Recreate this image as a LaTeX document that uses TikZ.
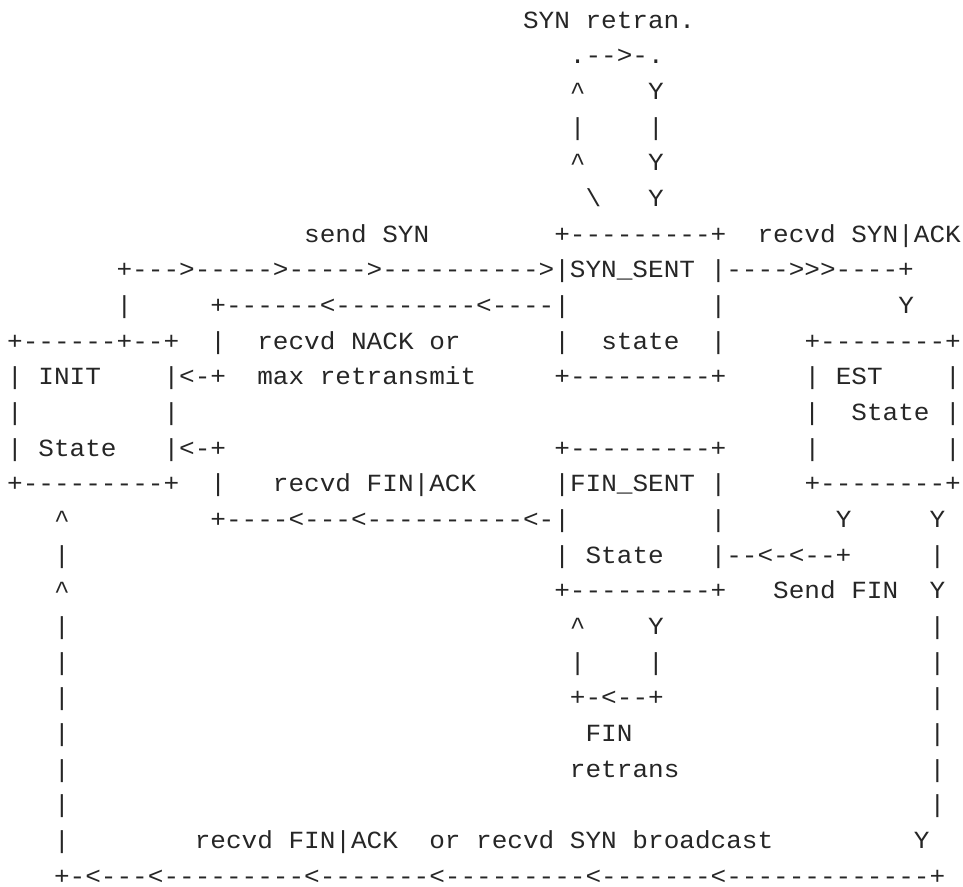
\documentclass[tikz,border=0pt]{standalone}
\usepackage{fontspec}
\usepackage{graphicx}
\setmonofont{Liberation Mono}
\usetikzlibrary{positioning}
\definecolor{ink}{HTML}{262626}
% one character cell is 0.6em wide; stretch a little to the grid
\newcommand\asc[1]{\scalebox{1.056}[1]{#1}}
\newcommand\gap[1]{\hspace*{#1\dimexpr0.6em\relax}}
\newcommand\caret{\textasciicircum}
\newcommand\bslash{\textbackslash}
\tikzset{
  ln/.style = {anchor=base west, inner sep=0pt, outer sep=0pt, text=ink,
               text depth=0pt, font=\ttfamily\fontsize{18.5pt}{20pt}\selectfont},
}

\begin{document}
\begin{tikzpicture}[x=11.72pt, y=-26.74pt]
  \useasboundingbox (-0.96,0.206) rectangle (60.65,25.06);

  % SYN retransmission loop
  \node[ln] (l01) at (32.5, 1) {\asc{SYN retran.}};
  \node[ln] (l02) at (35.5, 2) {\asc{.-->-.}};
  \node[ln] (l03) at (35.5, 3) {\asc{\caret\gap{4}Y}};
  \node[ln] (l04) at (35.5, 4) {\asc{|\gap{4}|}};
  \node[ln] (l05) at (35.5, 5) {\asc{\caret\gap{4}Y}};
  \node[ln] (l06) at (36.5, 6) {\asc{\bslash\gap{3}Y}};

  % SYN_SENT state
  \node[ln] (l07) at (18.5, 7) {\asc{send SYN\gap{8}+---------+\gap{2}recvd SYN|ACK}};
  \node[ln] (l08) at ( 6.5, 8) {\asc{+--->----->----->---------->|SYN\_SENT |---->>>----+}};
  \node[ln] (l09) at ( 6.5, 9) {\asc{|\gap{5}+------<---------<----|\gap{9}|\gap{11}Y}};
  \node[ln] (l10) at (-0.5,10) {\asc{+------+--+\gap{2}|\gap{2}recvd NACK or\gap{6}|\gap{2}state\gap{2}|\gap{5}+--------+}};
  \node[ln] (l11) at (-0.5,11) {\asc{| INIT\gap{4}|<-+\gap{2}max retransmit\gap{5}+---------+\gap{5}| EST\gap{4}|}};

  % INIT, EST and FIN_SENT states
  \node[ln] (l12) at (-0.5,12) {\asc{|\gap{9}|\gap{40}|\gap{2}State |}};
  \node[ln] (l13) at (-0.5,13) {\asc{| State\gap{3}|<-+\gap{21}+---------+\gap{5}|\gap{8}|}};
  \node[ln] (l14) at (-0.5,14) {\asc{+---------+\gap{2}|\gap{3}recvd FIN|ACK\gap{5}|FIN\_SENT |\gap{5}+--------+}};
  \node[ln] (l15) at ( 2.5,15) {\asc{\caret\gap{9}+----<---<----------<-|\gap{9}|\gap{7}Y\gap{5}Y}};
  \node[ln] (l16) at ( 2.5,16) {\asc{|\gap{31}| State\gap{3}|--<-<--+\gap{5}|}};
  \node[ln] (l17) at ( 2.5,17) {\asc{\caret\gap{31}+---------+\gap{3}Send FIN\gap{2}Y}};

  % FIN retransmission loop
  \node[ln] (l18) at ( 2.5,18) {\asc{|\gap{32}\caret\gap{4}Y\gap{17}|}};
  \node[ln] (l19) at ( 2.5,19) {\asc{|\gap{32}|\gap{4}|\gap{17}|}};
  \node[ln] (l20) at ( 2.5,20) {\asc{|\gap{32}+-<--+\gap{17}|}};
  \node[ln] (l21) at ( 2.5,21) {\asc{|\gap{33}FIN\gap{19}|}};
  \node[ln] (l22) at ( 2.5,22) {\asc{|\gap{32}retrans\gap{16}|}};
  \node[ln] (l23) at ( 2.5,23) {\asc{|\gap{55}|}};

  % way back to INIT
  \node[ln] (l24) at ( 2.5,24) {\asc{|\gap{8}recvd FIN|ACK\gap{2}or recvd SYN broadcast\gap{9}Y}};
  \node[ln] (l25) at ( 2.5,25) {\asc{+-<---<---------<-------<---------<-------<-------------+}};
\end{tikzpicture}
\end{document}
